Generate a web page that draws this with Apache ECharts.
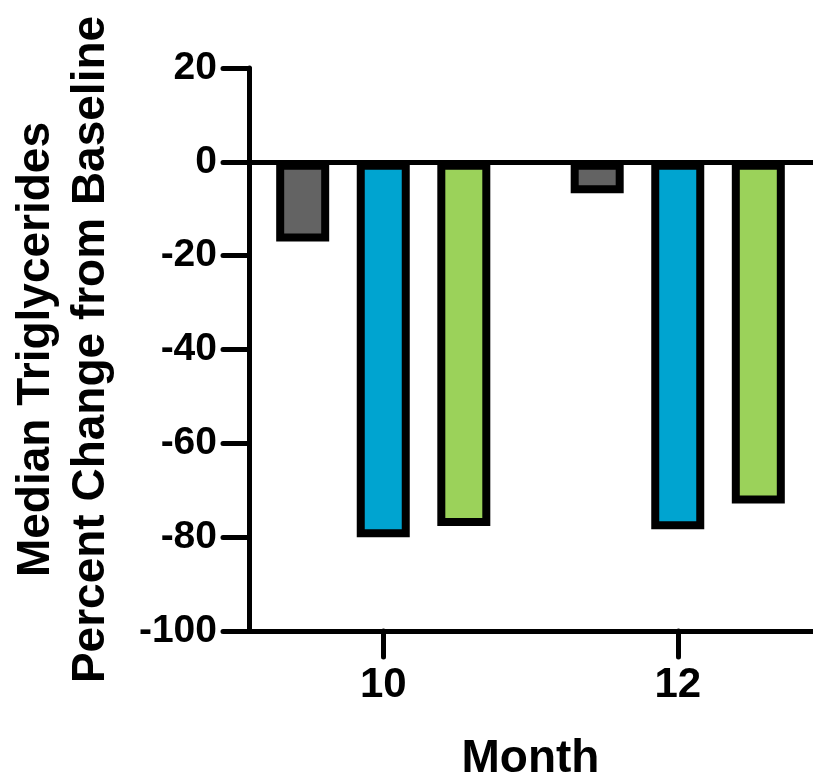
<!DOCTYPE html>
<html>
<head>
<meta charset="utf-8">
<script src="https://cdn.jsdelivr.net/npm/echarts@6/dist/echarts.min.js"></script>
<style>
  html, body { margin: 0; padding: 0; background: #fff; }
  #chart { width: 813px; height: 777px; }
</style>
</head>
<body>
<div id="chart"></div>
<script>
var months = ['10', '12'];
var grayValues = [-17, -6.7];
var blueValues = [-80, -78.3];
var greenValues = [-77.6, -72.8];
var yTicks = [-100, -80, -60, -40, -20, 0, 20];

var font = '"Liberation Sans", Arial, Helvetica, sans-serif';

var myChart = echarts.init(document.getElementById('chart'));

function barSeries(name, values, color) {
	return {
		name: name,
		type: 'bar',
		data: values,
		barWidth: 53,
		barGap: '52%',
		itemStyle: {
			color: color,
			borderColor: '#000',
			borderWidth: 8
		}
	};
}

var series = [
	barSeries('Group 1', grayValues, '#636363'),
	barSeries('Group 2', blueValues, '#00a4d0'),
	barSeries('Group 3', greenValues, '#9bd25a')
];
// zero line
series[2].markLine = {
	silent: true,
	symbol: 'none',
	label: { show: false },
	lineStyle: { color: '#000', width: 5, type: 'solid' },
	data: [{ yAxis: 0 }]
};

myChart.setOption({
	animation: false,
	backgroundColor: '#fff',
	grid: {
		left: 236,
		top: 68,
		width: 589,
		bottom: 146,
		containLabel: false,
		outerBoundsMode: 'none'
	},
	xAxis: {
		type: 'category',
		data: months,
		name: 'Month',
		nameLocation: 'middle',
		nameGap: 105,
		nameTextStyle: { fontFamily: font, fontWeight: 'bold', fontSize: 46, color: '#000' },
		axisLine: { onZero: false, lineStyle: { color: '#000', width: 5 } },
		axisTick: { show: true, interval: 0, alignWithLabel: true, length: 26, lineStyle: { color: '#000', width: 5, cap: 'round' } },
		axisLabel: { margin: 33, fontFamily: font, fontWeight: 'bold', fontSize: 42, color: '#000' },
		splitLine: { show: false }
	},
	yAxis: {
		type: 'value',
		min: yTicks[0],
		max: yTicks[yTicks.length - 1],
		interval: 20,
		offset: -13,
		name: 'Median Triglycerides\nPercent Change from Baseline',
		nameLocation: 'middle',
		nameGap: 130,
		nameTextStyle: { fontFamily: font, fontWeight: 'bold', fontSize: 46, lineHeight: 55, color: '#000' },
		axisLine: { show: true, lineStyle: { color: '#000', width: 5, cap: 'round' } },
		axisTick: { show: true, length: 26, lineStyle: { color: '#000', width: 5, cap: 'round' } },
		axisLabel: { margin: 32, fontFamily: font, fontWeight: 'bold', fontSize: 39, color: '#000' },
		splitLine: { show: false }
	},
	series: series
});
</script>
</body>
</html>
